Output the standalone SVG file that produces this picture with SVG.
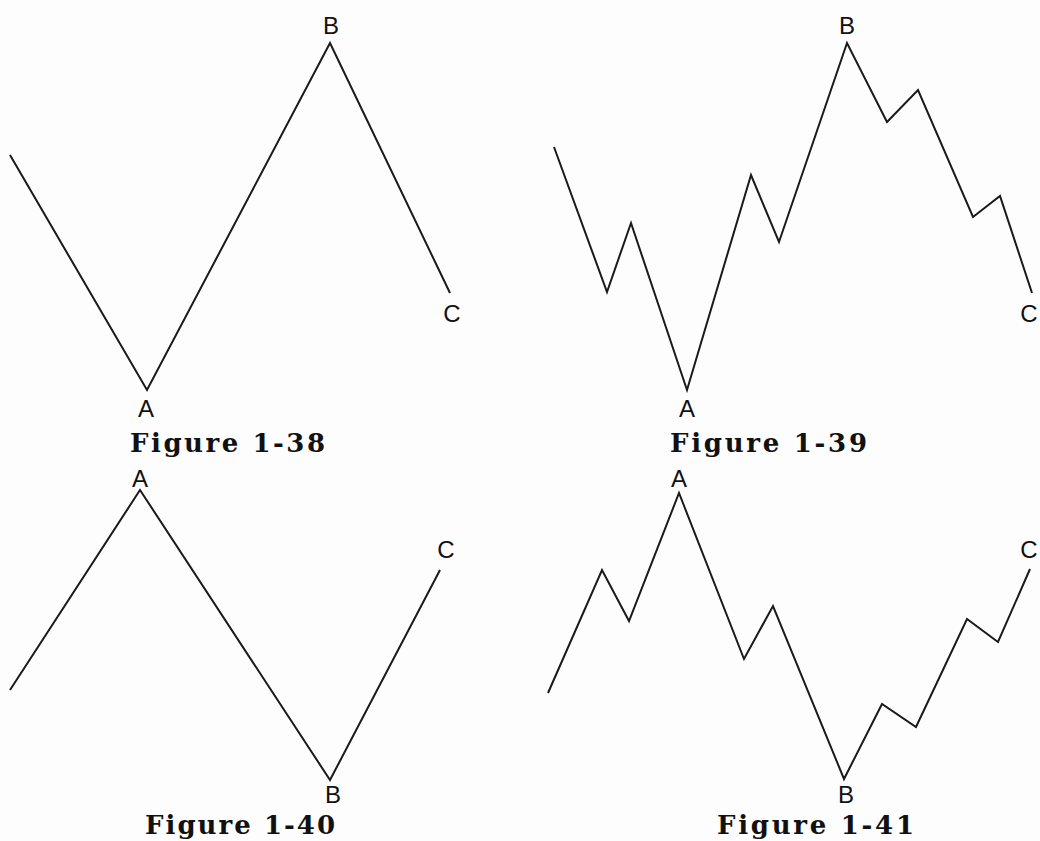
<svg xmlns="http://www.w3.org/2000/svg" width="1040" height="841" viewBox="0 0 1040 841">
<style>
.w{fill:none;stroke:#1a1a1a;stroke-width:2;stroke-linejoin:miter;stroke-linecap:butt}
.l{font-family:"Liberation Sans",Arial,sans-serif;font-size:24px;fill:#111;text-anchor:middle}
.c{font-family:"DejaVu Serif","Liberation Serif",serif;font-size:26px;font-weight:bold;fill:#111}
</style>
<rect width="1040" height="841" fill="#fdfdfd"/>
<g id="connectors">
<polyline class="w" points="10,155 147,390 330,43 450,293"/>
<polyline class="w" points="554,147 607,292 631,223 687,390 751,175 779,242 847,43 887,122 918,90 973,217 1000,196 1032,293"/>
<polyline class="w" points="10,690 140,490 330,780 440,570"/>
<polyline class="w" points="548,693 602,570 629,621 679,493 744,659 773,606 844,779 882,704 916,727 967,619 998,642 1030,569"/>
</g>
<g id="fig38">
<text class="l" x="331" y="34">B</text>
<text class="l" x="146" y="417">A</text>
<text class="l" x="452" y="322">C</text>
<text class="c" x="130" y="452" textLength="195" lengthAdjust="spacing">Figure 1-38</text>
</g>
<g id="fig39">
<text class="l" x="847" y="34">B</text>
<text class="l" x="687" y="417">A</text>
<text class="l" x="1029" y="322">C</text>
<text class="c" x="670" y="452" textLength="197" lengthAdjust="spacing">Figure 1-39</text>
</g>
<g id="fig40">
<text class="l" x="140" y="487">A</text>
<text class="l" x="446" y="558">C</text>
<text class="l" x="333" y="803">B</text>
<text class="c" x="145" y="834" textLength="190" lengthAdjust="spacing">Figure 1-40</text>
</g>
<g id="fig41">
<text class="l" x="679" y="487">A</text>
<text class="l" x="1029" y="558">C</text>
<text class="l" x="846" y="803">B</text>
<text class="c" x="717" y="834" textLength="197" lengthAdjust="spacing">Figure 1-41</text>
</g>
</svg>
